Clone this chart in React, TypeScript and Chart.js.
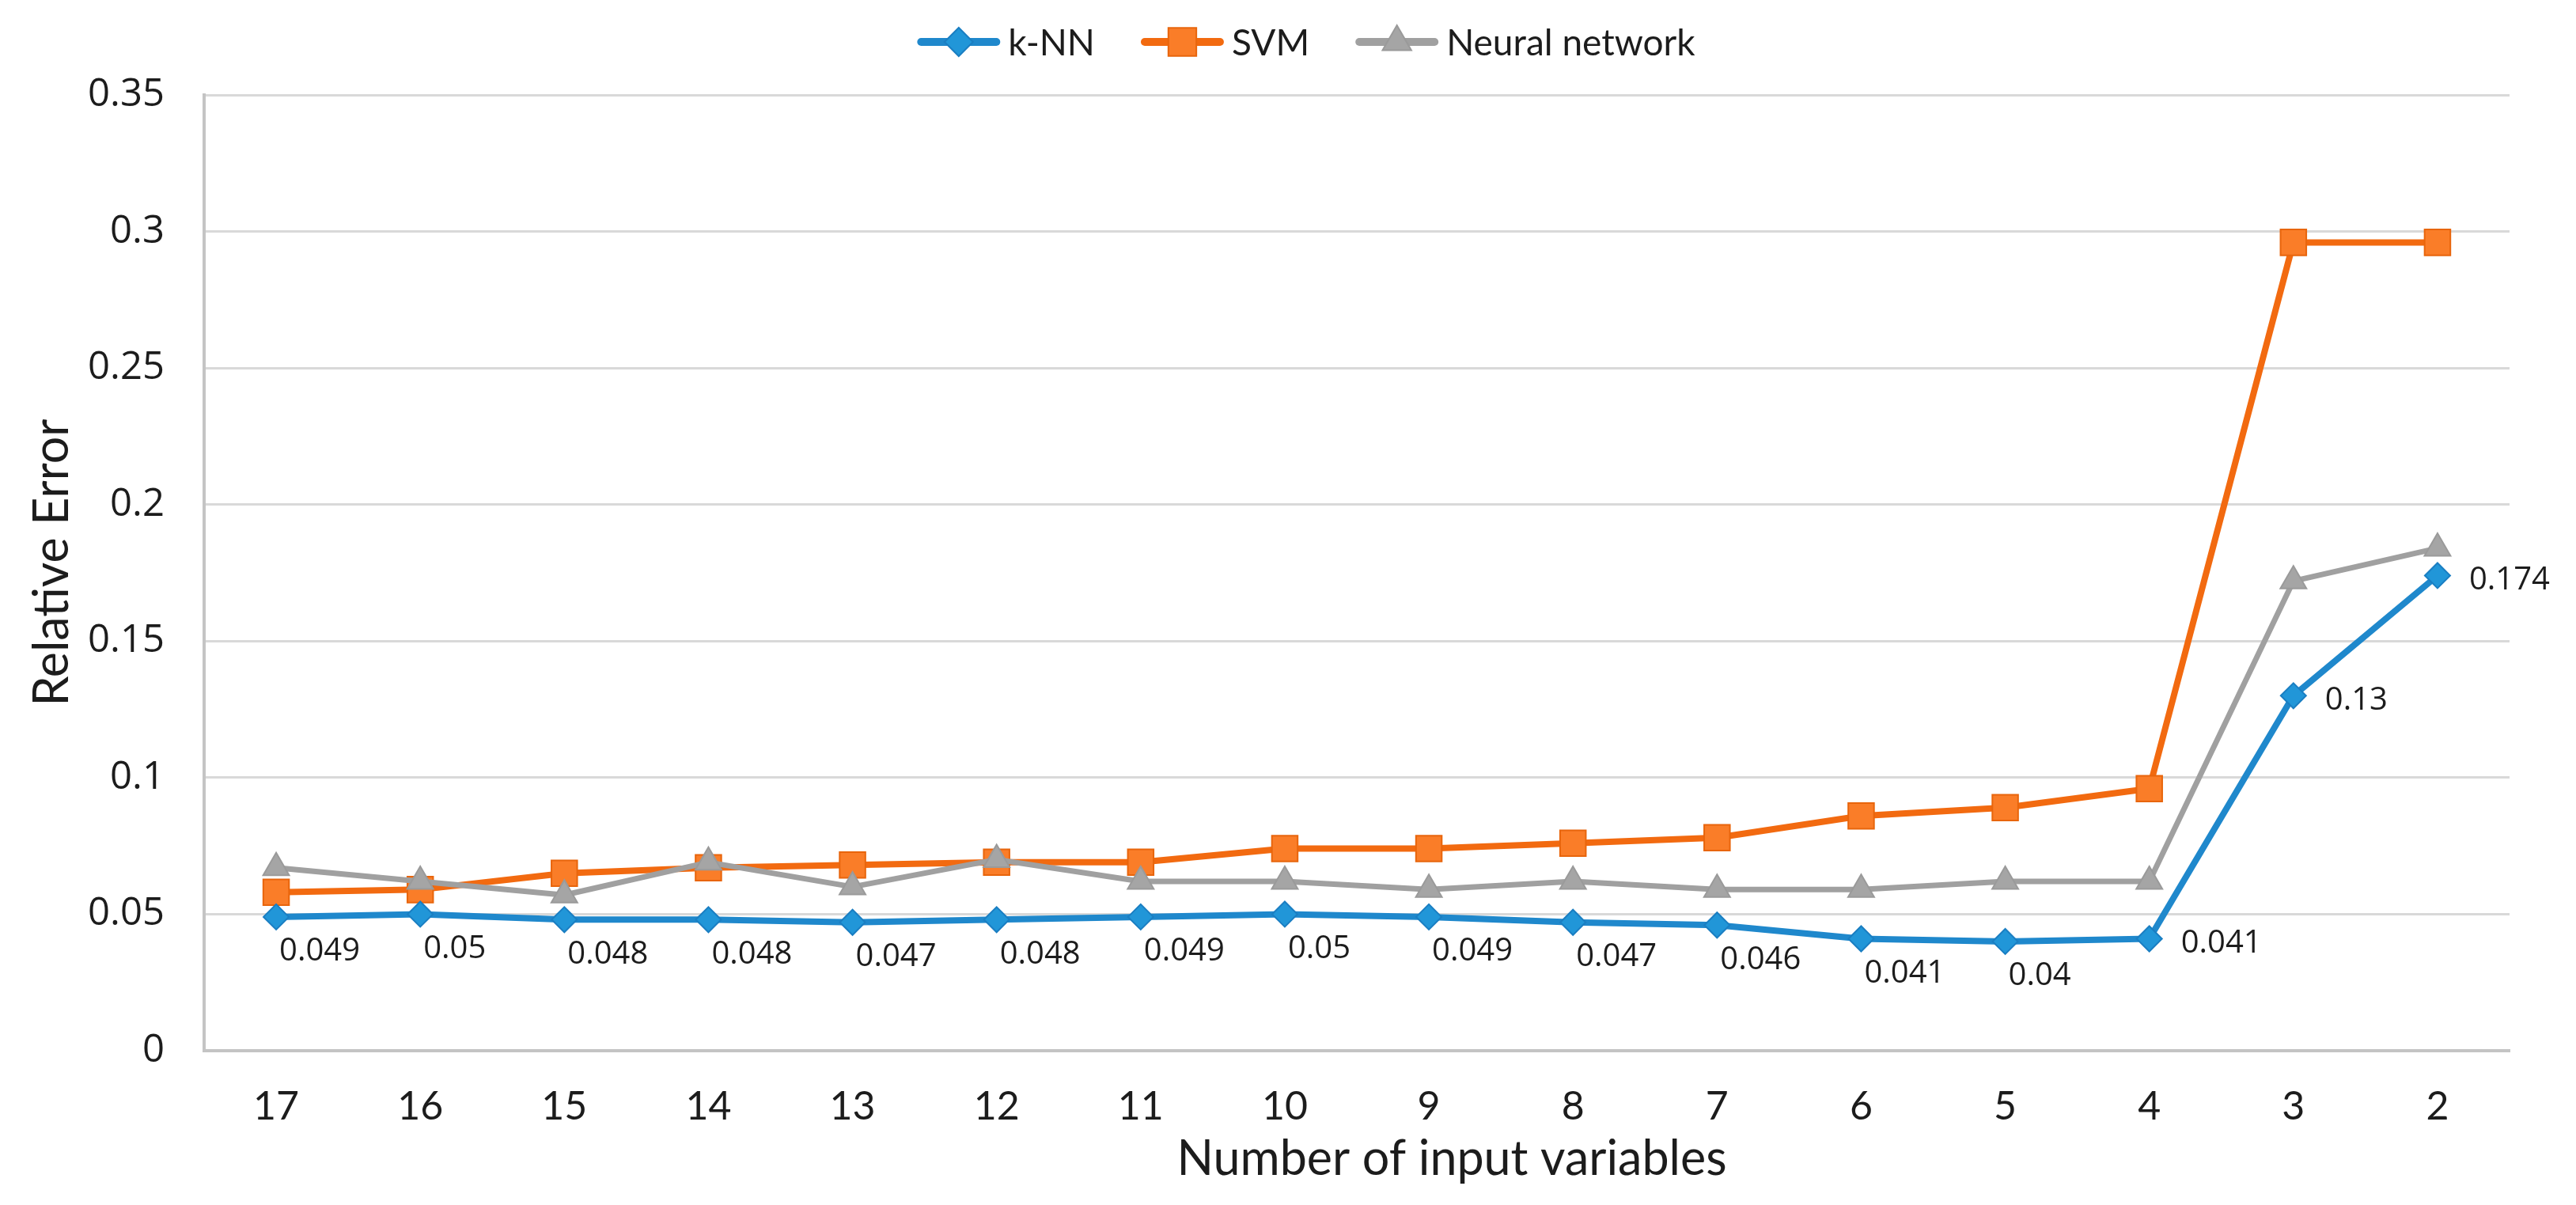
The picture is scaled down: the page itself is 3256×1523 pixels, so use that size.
import React, { useEffect, useRef } from "react";
import { Chart, registerables } from "chart.js";
import { drawPoint } from "chart.js/helpers";

Chart.register(...registerables);

// ---------- data ----------
const categories = ["17", "16", "15", "14", "13", "12", "11", "10", "9", "8", "7", "6", "5", "4", "3", "2"];
const seriesNames = ["k-NN", "SVM", "Neural network"];
const knnValues = [0.049, 0.05, 0.048, 0.048, 0.047, 0.048, 0.049, 0.05, 0.049, 0.047, 0.046, 0.041, 0.04, 0.041, 0.13, 0.174];
const svmValues = [0.058, 0.059, 0.065, 0.067, 0.068, 0.069, 0.069, 0.074, 0.074, 0.076, 0.078, 0.086, 0.089, 0.096, 0.296, 0.296];
const nnValues = [0.067, 0.062, 0.057, 0.069, 0.06, 0.07, 0.062, 0.062, 0.059, 0.062, 0.059, 0.059, 0.062, 0.062, 0.172, 0.184];
const knnLabels = ["0.049", "0.05", "0.048", "0.048", "0.047", "0.048", "0.049", "0.05", "0.049", "0.047", "0.046", "0.041", "0.04", "0.041", "0.13", "0.174"];
const yTickValues = [0, 0.05, 0.1, 0.15, 0.2, 0.25, 0.3, 0.35];
const xTitle = "Number of input variables";
const yTitle = "Relative Error";

// ---------- styles ----------
const W = 3256;
const H = 1523;
const TEXT = "#1c1c1c";
const CAL = "Lato, 'Open Sans', sans-serif";
const SEG = "'Open Sans', 'Noto Sans', sans-serif";

const legendPlugin = {
  id: "excelLegend",
  afterDraw(chart: any) {
    const ctx = chart.ctx as CanvasRenderingContext2D;
    const ds = chart.data.datasets;
    ctx.save();
    ctx.font = `46px ${CAL}`;
    const lineLen = 105;
    const gapText = 10;
    const gapItem = 58;
    const widths = ds.map((d: any) => lineLen + gapText + ctx.measureText(d.label).width);
    const total = widths.reduce((a: number, b: number) => a + b, 0) + gapItem * (ds.length - 1);
    let x = 1651 - total / 2;
    const y = 53;
    ds.forEach((d: any, i: number) => {
      ctx.strokeStyle = d.borderColor;
      ctx.lineWidth = 10;
      ctx.lineCap = "round";
      ctx.beginPath();
      ctx.moveTo(x + 5, y);
      ctx.lineTo(x + lineLen - 5, y);
      ctx.stroke();
      ctx.lineCap = "butt";
      ctx.fillStyle = d.pointBackgroundColor;
      ctx.strokeStyle = d.pointBorderColor;
      ctx.lineWidth = d.pointBorderWidth;
      drawPoint(ctx, { pointStyle: d.pointStyle, radius: d.pointRadius + 2, borderWidth: d.pointBorderWidth, rotation: 0 } as any, x + lineLen / 2, y);
      ctx.fillStyle = TEXT;
      ctx.textAlign = "left";
      ctx.textBaseline = "middle";
      ctx.fillText(d.label, x + lineLen + gapText, y + 2);
      x += widths[i] + gapItem;
    });
    ctx.restore();
  },
};

const titlesPlugin = {
  id: "axisTitles",
  afterDraw(chart: any) {
    const ctx = chart.ctx as CanvasRenderingContext2D;
    ctx.save();
    ctx.fillStyle = TEXT;
    ctx.font = `61px ${CAL}`;
    ctx.textAlign = "center";
    ctx.textBaseline = "middle";
    ctx.fillText(xTitle, 1835, 1465);
    ctx.translate(66, 711);
    ctx.rotate(-Math.PI / 2);
    ctx.fillText(yTitle, 0, 0);
    ctx.restore();
  },
};

const dataLabelPlugin = {
  id: "knnLabels",
  afterDatasetsDraw(chart: any) {
    const ctx = chart.ctx as CanvasRenderingContext2D;
    const meta = chart.getDatasetMeta(0);
    ctx.save();
    ctx.fillStyle = TEXT;
    ctx.font = `40px ${SEG}`;
    ctx.textAlign = "left";
    ctx.textBaseline = "middle";
    meta.data.forEach((pt: any, i: number) => {
      const txt = knnLabels[i];
      if (i >= 13) {
        ctx.fillText(txt, pt.x + 40, pt.y + 6);
      } else {
        ctx.fillText(txt, pt.x + 4, pt.y + 44);
      }
    });
    ctx.restore();
  },
};

export default function App() {
  const ref = useRef<HTMLCanvasElement | null>(null);

  useEffect(() => {
    document.body.style.margin = "0";
    document.body.style.overflow = "hidden";
    const canvas = ref.current;
    if (!canvas) return;
    const chart = new Chart(canvas, {
      type: "line",
      data: {
        labels: categories,
        datasets: [
          {
            label: seriesNames[0],
            data: knnValues,
            borderColor: "#1F88CC",
            borderWidth: 8,
            pointStyle: "rectRot",
            pointRadius: 16,
            pointBackgroundColor: "#2196D8",
            pointBorderColor: "#1A7EC2",
            pointBorderWidth: 2,
            tension: 0,
            order: 1,
          },
          {
            label: seriesNames[1],
            data: svmValues,
            borderColor: "#F26A10",
            borderWidth: 8,
            pointStyle: "rect",
            pointRadius: 23,
            pointBackgroundColor: "#FA7D28",
            pointBorderColor: "#E8650C",
            pointBorderWidth: 2,
            tension: 0,
            order: 3,
          },
          {
            label: seriesNames[2],
            data: nnValues,
            borderColor: "#A0A0A0",
            borderWidth: 7,
            pointStyle: "triangle",
            pointRadius: 19,
            pointBackgroundColor: "#A5A5A5",
            pointBorderColor: "#9A9A9A",
            pointBorderWidth: 2,
            tension: 0,
            order: 2,
          },
        ],
      },
      options: {
        animation: false,
        responsive: false,
        devicePixelRatio: 1,
        layout: { padding: { top: 120, right: 84, left: 0, bottom: 0 } },
        plugins: {
          legend: { display: false },
          tooltip: { enabled: false },
          title: { display: false },
        },
        elements: { line: { borderCapStyle: "round", borderJoinStyle: "round" } },
        scales: {
          x: {
            type: "category",
            offset: true,
            grid: { display: false, drawTicks: false },
            border: { display: true, color: "#C4C4C4", width: 4 },
            ticks: { font: { family: CAL, size: 50 }, color: TEXT, padding: 41, maxRotation: 0, autoSkip: false },
            afterFit: (s: any) => {
              s.height = H - 1328;
            },
          },
          y: {
            type: "linear",
            min: 0,
            max: 0.35,
            afterBuildTicks: (s: any) => {
              s.ticks = yTickValues.map((v) => ({ value: v }));
            },
            ticks: {
              font: { family: SEG, size: 49 },
              color: TEXT,
              padding: 50,
              callback: (v: any) => String(Number(Number(v).toFixed(2))),
            },
            grid: { color: "#D9D9D9", lineWidth: 3, drawTicks: false },
            border: { display: true, color: "#C4C4C4", width: 4 },
            afterFit: (s: any) => {
              s.width = 258;
            },
          },
        },
      },
      plugins: [dataLabelPlugin, legendPlugin, titlesPlugin],
    } as any);
    return () => chart.destroy();
  }, []);

  return (
    <div style={{ width: W, height: H, background: "#fff" }}>
      <canvas ref={ref} width={W} height={H} style={{ display: "block", width: W, height: H }} />
    </div>
  );
}
